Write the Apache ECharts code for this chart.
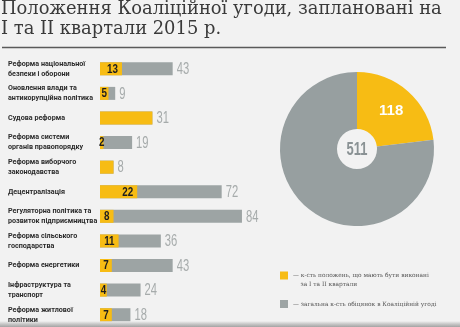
<!DOCTYPE html>
<html>
<head>
<meta charset="utf-8">
<script src="https://cdn.jsdelivr.net/npm/echarts@6/dist/echarts.min.js"></script>
<style>
html,body{margin:0;padding:0;background:#f2f2f2;}
#c{width:460px;height:327px;}
</style>
</head>
<body>
<div id="c"></div>
<script>
var titleText = 'Положення Коаліційної угоди, заплановані на\nI та II квартали 2015 р.';
var categories = [
  'Реформа національної\nбезпеки і оборони',
  'Оновлення влади та\nантикорупційна політика',
  'Судова реформа',
  'Реформа системи\nорганів правопорядку',
  'Реформа виборчого\nзаконодавства',
  'Децентралізація',
  'Регуляторна політика та\nрозвиток підприємництва',
  'Реформа сільського\nгосподарства',
  'Реформа енергетики',
  'Інфраструктура та\nтранспорт',
  'Реформа житлової\nполітики'
];
var plannedValues = [13, 5, 31, 2, 8, 22, 8, 11, 7, 4, 7];
var totalValues = [43, 9, 31, 19, 8, 72, 84, 36, 43, 24, 18];
var piePlanned = 118;
var pieTotal = 511;
var legendPlanned = 'к-сть положень, що мають бути виконані\nза I та II квартали';
var legendTotal = 'загальна к-сть обіцянок в Коаліційній угоді';

var YELLOW = '#f7bc14';
var GREY = '#9da4a4';
var PIEGREY = '#979fa0';
var NUMFONT = "'Liberation Sans', Arial, sans-serif";

var chart = echarts.init(document.getElementById('c'));

var legendText = {
  fontFamily: "'DejaVu Serif', serif",
  fontSize: 5.9,
  color: '#555',
  lineHeight: 9
};

function totalLabelItem(params, api) {
  var v = api.value(0), idx = api.value(1);
  var pt = api.coord([v, idx]);
  return {
    type: 'text',
    x: pt[0] + 4,
    y: pt[1] + 0.5,
    scaleX: 0.66,
    silent: true,
    style: {
      text: String(v),
      x: 0, y: 0,
      align: 'left', verticalAlign: 'middle',
      fill: '#a6abab',
      font: 'normal 17px ' + NUMFONT
    }
  };
}

function plannedLabelItem(params, api) {
  var v = api.value(0), idx = api.value(1), tot = api.value(2);
  if (v >= tot) { return { type: 'group', children: [] }; }
  var wide = v >= 11;
  var pt = api.coord([wide ? v : v / 2, idx]);
  return {
    type: 'text',
    x: wide ? pt[0] - 4 : pt[0],
    y: pt[1] + 0.5,
    scaleX: 0.82,
    silent: true,
    style: {
      text: String(v),
      x: 0, y: 0,
      align: wide ? 'right' : 'center', verticalAlign: 'middle',
      fill: '#1e1e1e',
      font: 'bold 12px ' + NUMFONT
    }
  };
}

chart.setOption({
  backgroundColor: '#f2f2f2',
  animation: false,
  title: {
    text: titleText,
    left: 1,
    top: -1,
    padding: 0,
    textStyle: {
      fontFamily: "'DejaVu Serif', serif",
      fontSize: 17.9,
      fontWeight: 'normal',
      color: '#3a3a3a',
      lineHeight: 20
    }
  },
  legend: [
    {
      orient: 'vertical',
      left: 280,
      top: 262,
      padding: 0,
      itemWidth: 8,
      itemHeight: 8,
      icon: 'rect',
      data: [legendPlanned],
      formatter: function (n) { return ' \n— ' + n.replace('\n', '\n    '); },
      textStyle: legendText,
      selectedMode: false
    },
    {
      orient: 'vertical',
      left: 280,
      top: 299.5,
      padding: 0,
      itemWidth: 8,
      itemHeight: 8,
      icon: 'rect',
      data: [legendTotal],
      formatter: function (n) { return '— ' + n; },
      textStyle: legendText,
      selectedMode: false
    }
  ],
  grid: {
    left: 100,
    top: 56.5,
    height: 274,
    width: 169,
    containLabel: false
  },
  xAxis: {
    type: 'value',
    min: 0,
    max: 100,
    show: false
  },
  yAxis: {
    type: 'category',
    data: categories,
    inverse: true,
    axisLine: { show: false },
    axisTick: { show: false },
    splitLine: { show: false },
    axisLabel: {
      align: 'left',
      margin: 92,
      fontFamily: "Roboto, 'Noto Sans', sans-serif",
      fontWeight: 'bold',
      fontSize: 7.2,
      lineHeight: 10,
      color: '#2b2b2b'
    }
  },
  series: [
    {
      name: legendTotal,
      type: 'bar',
      data: totalValues,
      barWidth: 13,
      itemStyle: { color: GREY }
    },
    {
      name: legendPlanned,
      type: 'bar',
      data: plannedValues,
      barWidth: 13,
      barGap: '-100%',
      itemStyle: { color: YELLOW }
    },
    {
      type: 'custom',
      coordinateSystem: 'cartesian2d',
      data: totalValues.map(function (v, i) { return [v, i]; }),
      encode: { x: 0, y: 1 },
      renderItem: totalLabelItem,
      silent: true,
      z: 5
    },
    {
      type: 'custom',
      coordinateSystem: 'cartesian2d',
      data: plannedValues.map(function (v, i) { return [v, i, totalValues[i]]; }),
      encode: { x: 0, y: 1 },
      renderItem: plannedLabelItem,
      silent: true,
      z: 5
    },
    {
      type: 'pie',
      center: [357, 149],
      radius: [20, 77],
      startAngle: 90,
      clockwise: true,
      silent: true,
      data: [
        { value: piePlanned, name: 'planned', itemStyle: { color: YELLOW },
          label: { show: true, position: 'inside', formatter: '{c}', color: '#ffffff',
                   fontFamily: NUMFONT, fontWeight: 'bold', fontSize: 15 } },
        { value: pieTotal - piePlanned, name: 'rest', itemStyle: { color: PIEGREY },
          label: { show: false } }
      ],
      labelLine: { show: false }
    }
  ],
  graphic: [
    {
      type: 'line',
      shape: { x1: 2, y1: 47.5, x2: 446, y2: 47.5 },
      style: { stroke: '#5a5a5a', lineWidth: 1.5 }
    },
    {
      type: 'text',
      x: 357, y: 150,
      scaleX: 0.72,
      style: {
        text: String(pieTotal),
        x: 0, y: 0,
        align: 'center', verticalAlign: 'middle',
        fill: '#8a9294',
        font: 'bold 18px ' + NUMFONT
      },
      z: 10
    },
    {
      type: 'rect',
      shape: { x: 0, y: 321, width: 460, height: 6 },
      style: {
        fill: new echarts.graphic.LinearGradient(0, 0, 0, 1, [
          { offset: 0, color: 'rgba(120,120,120,0)' },
          { offset: 0.5, color: 'rgba(120,120,120,0.35)' },
          { offset: 1, color: 'rgba(110,110,110,0.6)' }
        ])
      },
      z: 100
    }
  ]
});
</script>
</body>
</html>
